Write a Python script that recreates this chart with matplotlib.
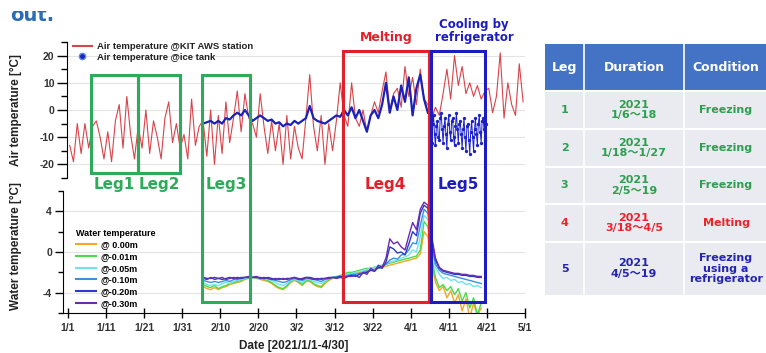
import numpy as np
import matplotlib
matplotlib.use("Agg")
import matplotlib.pyplot as plt
import matplotlib.transforms as mtransforms
from matplotlib.patches import Rectangle
from matplotlib.lines import Line2D

W, H = 766, 353
plt.rcParams['font.family'] = ['Liberation Sans', 'DejaVu Sans']
plt.rcParams['axes.unicode_minus'] = False

# day index: 0 = 2021/1/1
air_kit = [-13, -19, -5, -16, -5, -14, -6, -4, -10, -18,
           -8, -19, -4, 2, -14, 5, -9, -18, -6, -14,
           0, -16, -4, -10, -18, -3, 3, -12, -5, -14,
           -9, -18, 4, -13, -6, -4, -17, 0, -20, -2,
           -16, 3, -12, -3, 7, -8, 6, -3, -5, -10,
           6, -6, -16, -4, -15, -5, -20, -2, -18, -6,
           -14, -18, -3, 13, -6, -15, -2, -20, -5, -15,
           -4, 10, -2, -6, 10, -3, -6, 0, -8, -2,
           3, -1, 7, 14, 0, 6, 8, 1, 16, 5,
           12, 2, 15, 4, 2, -3, 1, -2, 6, 15,
           4, 20, 9, 16, 6, 10, 5, 9, 4, 7,
           8, -1, 5, 21, -3, 10, 2, -2, 17, 3]

# ice tank air temperature, daily 2/5 - 4/4
tank_air = [-5, -4.5, -4, -5, -4, -5, -3, -3.5, -2, -1,
            -2, 0, -2, -4, -3, -2, -3, -4, -3.5, -5,
            -4.5, -6, -5, -5.5, -4, -5, -4, -3, 1.5, -3,
            -4, -4.5, -5, -4, -3, -2, -2.5,
            0, -2, 1, -3, 0, -4, -8, -2, 0, -3, 2, 10, -1, 5, 0, 9, 3, 12, -2, 8, 13, 4, -1]
# ice tank air temperature during refrigerator cooling, every 6 h from 4/5
tank_leg5 = [-3, -8, -12, -5, -2, -9, -13, -6, -4, -10, -11, -3, -1, -7, -12, -6,
             -3, -9, -14, -5, -2, -8, -11, -4, -3, -10, -13, -6, -1, -7, -12, -5,
             -4, -9, -14, -7, -3, -10, -15, -6, -5, -11, -16, -8, -4, -10, -15, -7,
             -3, -9, -13, -5, -2, -8, -12, -4, -3, -7, -11, -5]

# water temperature, daily 2/5 - 4/18
w000 = [-3.4, -3.6, -3.7, -3.5, -3.7, -3.5, -3.4, -3.2, -3.1, -3.0, -2.9, -2.7, -2.6,
        -2.5, -2.6, -2.7, -2.8, -2.9, -3.1, -3.4, -3.6, -3.7, -3.4, -3.0, -2.8, -3.0, -3.3,
        -2.9, -2.9, -3.2, -3.4, -3.5, -3.1, -2.8, -2.6, -2.5, -2.4,
        -2.3, -2.2, -2.1, -2.1, -2.0, -1.9, -1.8, -1.8, -1.7, -1.6, -1.5, -1.4, -1.3, -1.2,
        -1.1, -1.0, -0.9, -0.8, -0.7, -0.6, -0.2, 2.0, 1.5,
        -1.0, -3.0, -3.8, -3.4, -4.5, -3.8, -5.0, -4.2, -5.8, -4.6, -6.5, -5.0, -6.3, -5.5]
w001 = [-3.2, -3.4, -3.5, -3.3, -3.6, -3.4, -3.3, -3.1, -3.0, -2.9, -2.8, -2.6, -2.5,
        -2.5, -2.5, -2.6, -2.7, -2.8, -3.0, -3.3, -3.5, -3.6, -3.3, -2.9, -2.7, -2.9, -3.2,
        -2.8, -2.8, -3.1, -3.3, -3.4, -3.0, -2.7, -2.5, -2.4, -2.3,
        -2.2, -2.0, -2.0, -1.9, -1.8, -1.7, -1.6, -1.6, -1.5, -1.4, -1.3, -1.2, -1.1, -1.0,
        -0.9, -0.8, -0.7, -0.6, -0.5, -0.4, 0.2, 3.0, 2.5,
        -0.5, -2.5, -3.5, -3.2, -3.8, -3.4, -4.2, -3.6, -4.8, -4.0, -5.5, -4.5, -6.2, -5.0]
w005 = [-3.0, -3.2, -3.3, -3.2, -3.3, -3.1, -3.0, -3.1, -2.9, -2.8, -2.7, -2.6, -2.5,
        -2.5, -2.5, -2.6, -2.6, -2.7, -2.8, -3.0, -3.2, -3.3, -3.1, -2.8, -2.7, -2.8, -3.0,
        -2.7, -2.7, -2.9, -3.0, -3.1, -2.9, -2.6, -2.5, -2.5, -2.4,
        -2.3, -2.2, -2.1, -2.0, -1.9, -1.9, -1.7, -1.6, -1.5, -1.4, -1.3, -1.2, -1.0, -0.9,
        -0.8, -0.6, -0.5, -0.3, 0.2, 0.0, 1.5, 3.6, 3.2,
        0.3, -1.5, -2.2, -2.6, -2.5, -2.8, -2.7, -3.0, -2.9, -3.2, -3.1, -3.4, -3.3, -3.5]
w010 = [-2.8, -2.9, -3.0, -2.9, -3.0, -2.9, -2.8, -2.9, -2.7, -2.7, -2.6, -2.5, -2.5,
        -2.5, -2.5, -2.6, -2.6, -2.6, -2.7, -2.8, -2.9, -3.0, -2.9, -2.7, -2.6, -2.7, -2.8,
        -2.6, -2.6, -2.7, -2.8, -2.9, -2.7, -2.6, -2.5, -2.5, -2.4,
        -2.4, -2.3, -2.2, -2.2, -2.1, -2.0, -1.9, -1.8, -1.7, -1.6, -1.4, -1.2, -0.8, -0.6,
        -0.7, -0.3, -0.2, 0.2, 0.9, 0.8, 2.6, 4.2, 3.8,
        0.8, -1.2, -1.8, -2.1, -2.2, -2.3, -2.4, -2.5, -2.6, -2.7, -2.8, -2.9, -3.0, -3.1]
w020 = [-2.5, -2.6, -2.6, -2.5, -2.6, -2.7, -2.6, -2.5, -2.6, -2.5, -2.6, -2.5, -2.5,
        -2.5, -2.5, -2.5, -2.6, -2.5, -2.6, -2.7, -2.6, -2.7, -2.6, -2.6, -2.5, -2.6, -2.7,
        -2.5, -2.5, -2.6, -2.7, -2.6, -2.6, -2.5, -2.5, -2.5, -2.4,
        -2.5, -2.4, -2.3, -2.4, -2.2, -2.1, -2.0, -1.8, -1.9, -1.5, -1.6, -1.0, 0.5, 0.3,
        -0.1, 0.0, -0.3, 0.8, 2.0, 1.6, 3.8, 4.6, 4.3,
        1.2, -0.8, -1.6, -1.9, -2.0, -2.1, -2.2, -2.2, -2.3, -2.3, -2.4, -2.4, -2.5, -2.5]
w030 = [-2.6, -2.7, -2.5, -2.7, -2.6, -2.5, -2.7, -2.6, -2.5, -2.6, -2.5, -2.5, -2.4,
        -2.5, -2.4, -2.6, -2.5, -2.6, -2.7, -2.6, -2.7, -2.6, -2.7, -2.6, -2.5, -2.7, -2.6,
        -2.5, -2.6, -2.7, -2.6, -2.7, -2.6, -2.6, -2.5, -2.6, -2.5,
        -2.6, -2.4, -2.4, -2.3, -2.5, -2.0, -2.2, -1.6, -1.9, -1.3, -1.5, -0.6, 1.3, 0.8,
        1.0, 0.5, 0.2, 1.6, 2.9, 2.2, 4.2, 4.9, 4.6,
        1.5, -0.6, -1.5, -1.8, -1.9, -2.0, -2.1, -2.1, -2.2, -2.2, -2.3, -2.3, -2.4, -2.4]
depth_labels = ["@ 0.00m", "@-0.01m", "@-0.05m", "@-0.10m", "@-0.20m", "@-0.30m"]
depth_colors = ["#f5a623", "#4cd94c", "#6fe3ef", "#3b8fe0", "#2a3bc8", "#6a2bb0"]

tick_days = [0, 10, 20, 30, 40, 50, 60, 70, 80, 90, 100, 110, 120]
tick_labels = ["1/1", "1/11", "1/21", "1/31", "2/10", "2/20", "3/2", "3/12",
               "3/22", "4/1", "4/11", "4/21", "5/1"]

# leg boxes: (start day, end day, top px, bottom px, label, colour)
leg_spans = [(6.0, 18.4, 75, 173, "Leg1", "#2eab5a"),
             (18.4, 29.4, 75, 173, "Leg2", "#2eab5a"),
             (35.1, 47.8, 75, 302, "Leg3", "#2eab5a"),
             (72.1, 94.8, 51, 302, "Leg4", "#e0202a"),
             (95.4, 109.4, 51, 302, "Leg5", "#1c1cc0")]

GREEN, RED, BLUE = "#2e9e50", "#e8252c", "#2424b0"
tbl_legs = ["1", "2", "3", "4", "5"]
tbl_dur = ["2021\n1/6～18", "2021\n1/18～1/27", "2021\n2/5～19", "2021\n3/18～4/5", "2021\n4/5～19"]
tbl_cond = ["Freezing", "Freezing", "Freezing", "Melting", "Freezing\nusing a\nrefrigerator"]
tbl_col = [GREEN, GREEN, GREEN, RED, BLUE]

fig = plt.figure(figsize=(W / 100, H / 100), dpi=100)
px = mtransforms.Affine2D().scale(1 / W, -1 / H).translate(0, 1) + fig.transFigure

days = np.arange(len(air_kit)) + 0.5
tank_days = np.arange(35, 35 + len(tank_air)) + 0.5
leg5_days = 95 + np.arange(len(tank_leg5)) * 0.25
wdays = np.arange(35, 35 + len(w000)) + 0.5

# --- air temperature panel
ax1 = fig.add_axes([67 / W, 1 - 178 / H, 458 / W, 136 / H])
for g in [20, 10, 0, -10, -20]:
    ax1.axhline(g, color="#e4e4e4", lw=0.8, zorder=0)
ax1.plot(days, air_kit, color="#d9434a", lw=0.8, zorder=2)
ax1.plot(tank_days, tank_air, color="#1c22b8", lw=1.6, zorder=3)
ax1.plot(leg5_days, tank_leg5, color="#1c22c8", lw=0.7, marker="o", ms=2.4, mew=0, zorder=3)
ax1.set_xlim(-0.2, 120)
ax1.set_ylim(-25, 25)
ax1.set_yticks([20, 10, 0, -10, -20])
ax1.set_yticks([25, 15, 5, -5, -15, -25], minor=True)
for s in ["top", "right", "bottom"]:
    ax1.spines[s].set_visible(False)
ax1.set_xticks([])
ax1.tick_params(axis="y", which="major", length=7, width=1, pad=2, labelsize=7.5, labelcolor="#333333")
ax1.tick_params(axis="y", which="minor", length=4, width=1)
for t in ax1.get_yticklabels():
    t.set_fontweight("bold")
ax1.set_ylabel("Air temperature [°C]", fontsize=8.5, fontweight="bold", color="#222222")
ax1.yaxis.set_label_coords(-0.098, 0.5)
h_red = Line2D([], [], color="#d9434a", lw=1.5)
h_blue = Line2D([], [], color="#1c22c8", lw=0, marker="o", ms=4.5, mec="#5a8fe0")
leg1 = ax1.legend([h_red, h_blue], ["Air temperature @KIT AWS station", "Air temperature @ice tank"],
                  loc="upper left", bbox_to_anchor=(0.0, 1.04), frameon=False,
                  prop={"size": 6.8, "weight": "bold"}, handlelength=2.0, handletextpad=0.6,
                  labelspacing=0.15, borderaxespad=0.2)
for t in leg1.get_texts():
    t.set_color("#222222")

# --- water temperature panel
ax2 = fig.add_axes([63 / W, 40 / H, 462 / W, 122 / H])
for g in [4, 0, -4]:
    ax2.axhline(g, color="#e4e4e4", lw=0.8, zorder=0)
for vals, col in zip([w000, w001, w005, w010, w020, w030], depth_colors):
    ax2.plot(wdays, vals, color=col, lw=1.0, zorder=2)
ax2.set_xlim(-1.3, 120)
ax2.set_ylim(-6, 6)
ax2.set_yticks([4, 0, -4])
ax2.set_yticks([6, 2, -2, -6], minor=True)
ax2.set_xticks(tick_days)
ax2.set_xticklabels(tick_labels)
for s in ["top", "right"]:
    ax2.spines[s].set_visible(False)
ax2.tick_params(axis="y", which="major", length=6, width=1, pad=2, labelsize=7.5, labelcolor="#333333")
ax2.tick_params(axis="y", which="minor", length=3.5, width=1)
ax2.tick_params(axis="x", direction="inout", length=7, width=1, pad=4, labelsize=7.5, labelcolor="#333333")
for t in ax2.get_yticklabels() + ax2.get_xticklabels():
    t.set_fontweight("bold")
ax2.set_ylabel("Water temperature [°C]", fontsize=8.5, fontweight="bold", color="#222222")
ax2.yaxis.set_label_coords(-0.089, 0.55)
ax2.set_xlabel("Date [2021/1/1-4/30]", fontsize=8.5, fontweight="bold", color="#222222")
ax2.xaxis.set_label_coords(0.5, -0.225)
handles = [Line2D([], [], color=c, lw=1.5) for c in depth_colors]
leg2 = ax2.legend(handles, depth_labels, title="Water temperature", loc="upper left",
                  bbox_to_anchor=(9 / 462, (313 - 225) / 122), frameon=False,
                  prop={"size": 6.5, "weight": "bold"}, handlelength=2.3, handletextpad=0.5,
                  labelspacing=0.3, borderaxespad=0.0)
leg2.get_title().set_fontsize(6.5)
leg2.get_title().set_fontweight("bold")
leg2._legend_box.align = "left"

# --- leg boxes spanning both panels
blend = mtransforms.blended_transform_factory(ax2.transData, px)
for x0, x1, top, bot, name, col in leg_spans:
    fig.add_artist(Rectangle((x0, top), x1 - x0, bot - top, transform=blend, fill=False,
                             ec=col, lw=2.2, zorder=5))
    fig.text((x0 + x1) / 2, 185, name, transform=blend, ha="center", va="center",
             fontsize=11, fontweight="bold", color=col, family="DejaVu Sans")

fig.text(386 / W, 1 - 38 / H, "Melting", ha="center", va="center", fontsize=9,
         fontweight="bold", color="#e0202a", family="DejaVu Sans")
fig.text(474 / W, 1 - 31 / H, "Cooling by\nrefrigerator", ha="center", va="center", fontsize=8.5,
         fontweight="bold", color="#1c1cc0", family="DejaVu Sans", linespacing=1.05)
# slide text cut off at the top of the screenshot
out_txt = fig.text(10 / W, 1 - 21 / H, "out.", ha="left", va="baseline", fontsize=14,
                   fontweight="bold", color="#2b6cb5", family="DejaVu Sans")
out_clip = Rectangle((0, 11), 80, 20, transform=px, fc="none", ec="none")
fig.add_artist(out_clip)
out_txt.set_clip_path(out_clip)

# --- table on the right
cols = [545, 584, 684, 770]
rows = [44, 91, 129, 167, 204, 242, 295]
fig.add_artist(Rectangle((cols[0], rows[0]), cols[-1] - cols[0], rows[1] - rows[0],
                         transform=px, fc="#4472c4", ec="none"))
fig.add_artist(Rectangle((cols[0], rows[1]), cols[-1] - cols[0], rows[-1] - rows[1],
                         transform=px, fc="#e9ebf1", ec="none"))
for y in rows[1:-1]:
    fig.add_artist(Line2D([cols[0], cols[-1]], [y, y], transform=px, color="white", lw=1.5))
for x in cols[1:-1]:
    fig.add_artist(Line2D([x, x], [rows[0], rows[-1]], transform=px, color="white", lw=1.2))
tfont = ["DejaVu Sans", "Noto Sans CJK JP"]
centers = [(cols[i] + cols[i + 1]) / 2 for i in range(3)]
centers[2] = 726
for cx, txt in zip(centers, ["Leg", "Duration", "Condition"]):
    fig.text(cx, (rows[0] + rows[1]) / 2, txt, transform=px, ha="center", va="center",
             fontsize=9, fontweight="bold", color="white", family=tfont)
for i in range(5):
    cy = (rows[i + 1] + rows[i + 2]) / 2
    c = tbl_col[i]
    fig.text(centers[0], cy, tbl_legs[i], transform=px, ha="center", va="center",
             fontsize=8, fontweight="bold", color=c, family=tfont)
    fig.text(centers[1], cy, tbl_dur[i], transform=px, ha="center", va="center",
             fontsize=8, fontweight="bold", color=c, family=tfont, linespacing=1.1)
    fig.text(centers[2], cy, tbl_cond[i], transform=px, ha="center", va="center",
             fontsize=8, fontweight="bold", color=c, family=tfont, linespacing=1.05)

fig.savefig("out.png", dpi=100)
